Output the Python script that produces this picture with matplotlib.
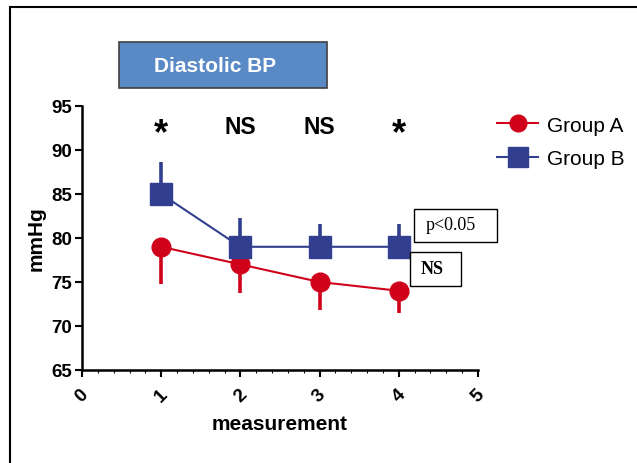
import matplotlib
matplotlib.use("Agg")
import matplotlib.pyplot as plt
from matplotlib.patches import Rectangle
from matplotlib.lines import Line2D

plt.rcParams['font.family'] = ['Liberation Sans', 'DejaVu Sans']

# data
measurement = [1, 2, 3, 4]
group_a = [79, 77, 75, 74]
group_a_err = [4.2, 3.2, 3.2, 2.5]      # drawn downward only
group_b = [85, 79, 79, 79]
group_b_err = [3.6, 3.3, 2.6, 2.6]      # drawn upward only
signif = ['*', 'NS', 'NS', '*']
x_ticks = [0, 1, 2, 3, 4, 5]
y_ticks = [65, 70, 75, 80, 85, 90, 95]

red = '#D0021B'
blue = '#323F8E'

fig = plt.figure(figsize=(6.37, 4.64), dpi=100)
W, H = 637, 464

# outer frame (only top and left edges visible in the picture)
fig.patches.append(Rectangle((10 / W, -0.1), 1.2, 1 - 8 / H + 0.1, transform=fig.transFigure,
                             fill=False, edgecolor='black', linewidth=1.5))

ax = fig.add_axes([82 / W, 1 - 371 / H, (478 - 82) / W, (371 - 107) / H])

ax.errorbar(measurement, group_a, yerr=[group_a_err, [0] * 4], color=red, lw=1.5,
            marker='o', markersize=13.5, elinewidth=2.6, capsize=0, zorder=3)
ax.errorbar(measurement, group_b, yerr=[[0] * 4, group_b_err], color=blue, lw=1.5,
            marker='s', markersize=16, elinewidth=2.6, capsize=0, zorder=4)

for x, s in zip(measurement, signif):
    if s == '*':
        ax.text(x, 91.8, s, ha='center', va='center', fontsize=26, fontweight='bold')
    else:
        ax.text(x, 92.7, s, ha='center', va='center', fontsize=16.5, fontweight='bold')

ax.set_xlim(0, 5)
ax.set_ylim(65, 95)
ax.set_xticks(x_ticks)
ax.set_yticks(y_ticks)
ax.set_xticks([i * 0.2 for i in range(26)], minor=True)
ax.tick_params(axis='x', which='minor', length=2, width=0.8)
ax.tick_params(axis='both', which='major', length=5, width=1.5, labelsize=13.5, pad=2)
ax.tick_params(axis='x', which='major', pad=6)
ax.set_xticklabels([str(t) for t in x_ticks], rotation=45, fontweight='bold')
ax.set_yticklabels([str(t) for t in y_ticks], fontweight='bold')
ax.spines['top'].set_visible(False)
ax.spines['right'].set_visible(False)
ax.spines['left'].set_linewidth(1.8)
ax.spines['bottom'].set_linewidth(1.8)
ax.set_xlabel('measurement', fontsize=15, fontweight='bold', labelpad=7)
ax.set_ylabel('mmHg', fontsize=15, fontweight='bold', labelpad=4)

handles = [Line2D([], [], color=red, lw=1.5, marker='o', markersize=12),
           Line2D([], [], color=blue, lw=1.5, marker='s', markersize=14)]
ax.legend(handles, ['Group A', 'Group B'], loc='upper left', bbox_to_anchor=(1.0, 1.035),
          frameon=False, fontsize=15, handlelength=2.0, labelspacing=0.7, handletextpad=0.4)

# title box
fig.patches.append(Rectangle((119 / W, 1 - 89 / H), 208 / W, 46 / H, transform=fig.transFigure,
                             facecolor='#5A8AC6', edgecolor='#404040', linewidth=1.2))
fig.text(215 / W, 1 - 66 / H, 'Diastolic BP', color='white', fontsize=15, fontweight='bold',
         ha='center', va='center')

# annotation boxes
fig.patches.append(Rectangle((414 / W, 1 - 243 / H), 83 / W, 33 / H, transform=fig.transFigure,
                             facecolor='white', edgecolor='black', linewidth=1.0, zorder=5))
fig.text(451 / W, 1 - 226 / H, 'p<0.05', family=['Liberation Serif'], fontsize=13,
         ha='center', va='center', zorder=6)
fig.patches.append(Rectangle((410 / W, 1 - 287 / H), 51 / W, 34 / H, transform=fig.transFigure,
                             facecolor='white', edgecolor='black', linewidth=1.0, zorder=5))
fig.text(432 / W, 1 - 270 / H, 'NS', family=['Liberation Serif'], fontsize=13,
         fontweight='bold', ha='center', va='center', zorder=6)

fig.savefig('out.png', dpi=100)
